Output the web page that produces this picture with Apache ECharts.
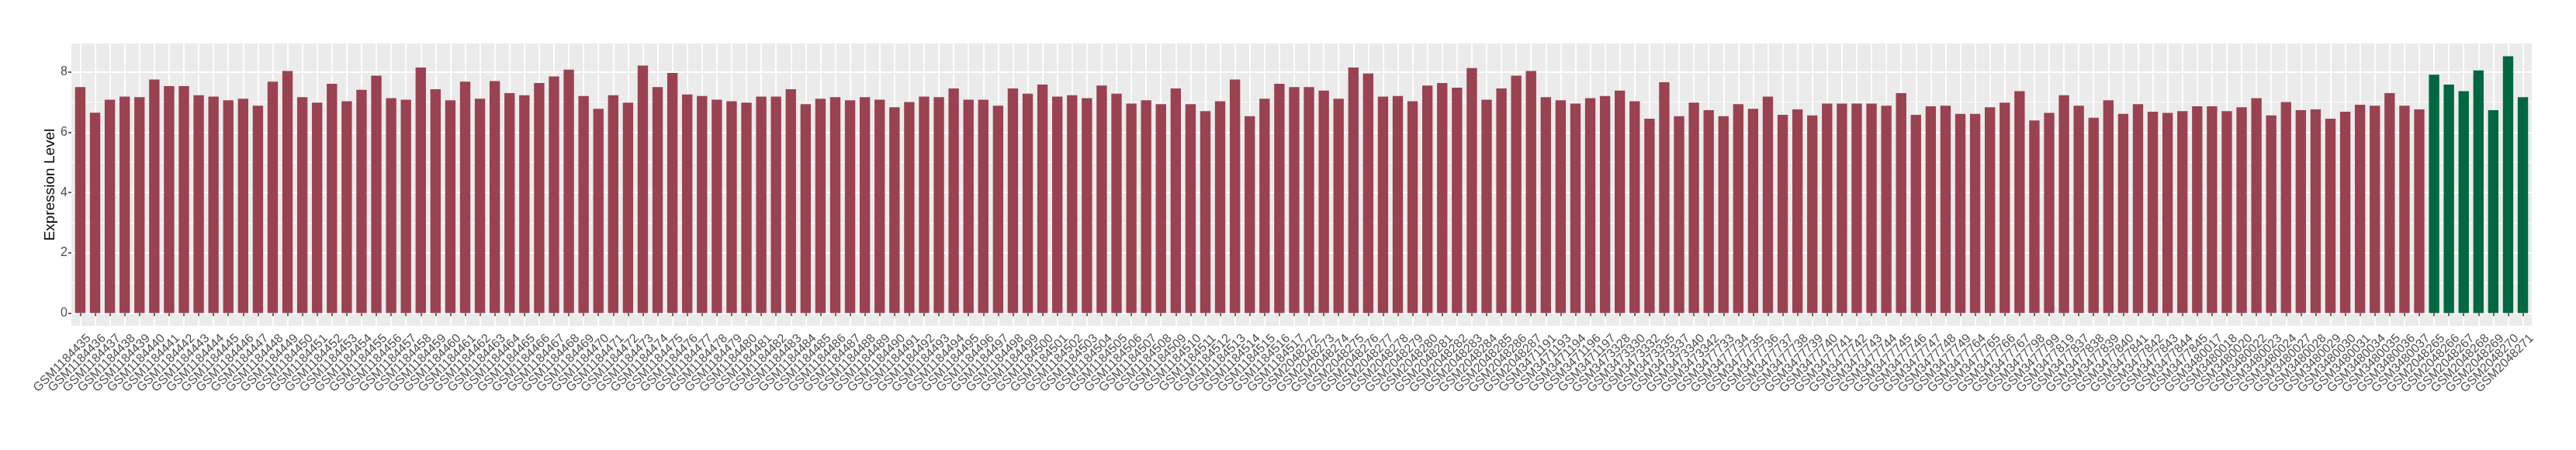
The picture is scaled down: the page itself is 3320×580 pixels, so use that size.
<!DOCTYPE html>
<html><head><meta charset="utf-8">
<script src="https://cdn.jsdelivr.net/npm/echarts@6/dist/echarts.min.js"></script>
<style>html,body{margin:0;padding:0;background:#fff}#c{width:3320px;height:580px}</style>
</head><body><div id="c"></div>
<script>
const controlSamples = [
"GSM1184435","GSM1184436","GSM1184437","GSM1184438","GSM1184439","GSM1184440","GSM1184441","GSM1184442","GSM1184443","GSM1184444",
"GSM1184445","GSM1184446","GSM1184447","GSM1184448","GSM1184449","GSM1184450","GSM1184451","GSM1184452","GSM1184453","GSM1184454",
"GSM1184455","GSM1184456","GSM1184457","GSM1184458","GSM1184459","GSM1184460","GSM1184461","GSM1184462","GSM1184463","GSM1184464",
"GSM1184465","GSM1184466","GSM1184467","GSM1184468","GSM1184469","GSM1184470","GSM1184471","GSM1184472","GSM1184473","GSM1184474",
"GSM1184475","GSM1184476","GSM1184477","GSM1184478","GSM1184479","GSM1184480","GSM1184481","GSM1184482","GSM1184483","GSM1184484",
"GSM1184485","GSM1184486","GSM1184487","GSM1184488","GSM1184489","GSM1184490","GSM1184491","GSM1184492","GSM1184493","GSM1184494",
"GSM1184495","GSM1184496","GSM1184497","GSM1184498","GSM1184499","GSM1184500","GSM1184501","GSM1184502","GSM1184503","GSM1184504",
"GSM1184505","GSM1184506","GSM1184507","GSM1184508","GSM1184509","GSM1184510","GSM1184511","GSM1184512","GSM1184513","GSM1184514",
"GSM1184515","GSM1184516","GSM1184517",
"GSM2048272","GSM2048273","GSM2048274","GSM2048275","GSM2048276","GSM2048277","GSM2048278","GSM2048279","GSM2048280","GSM2048281",
"GSM2048282","GSM2048283","GSM2048284","GSM2048285","GSM2048286","GSM2048287",
"GSM3471191","GSM3471193","GSM3471194","GSM3471196","GSM3471197","GSM3473328","GSM3473330","GSM3473332","GSM3473335","GSM3473337",
"GSM3473340","GSM3473342","GSM3477733","GSM3477734","GSM3477735","GSM3477736","GSM3477737","GSM3477738","GSM3477739","GSM3477740",
"GSM3477741","GSM3477742","GSM3477743","GSM3477744","GSM3477745","GSM3477746","GSM3477747","GSM3477748","GSM3477749","GSM3477764",
"GSM3477765","GSM3477766","GSM3477767","GSM3477798","GSM3477799","GSM3477819","GSM3477837","GSM3477838","GSM3477839","GSM3477840",
"GSM3477841","GSM3477842","GSM3477843","GSM3477844","GSM3477845","GSM3480017","GSM3480018","GSM3480020","GSM3480022","GSM3480023",
"GSM3480024","GSM3480027","GSM3480028","GSM3480029","GSM3480030","GSM3480031","GSM3480034","GSM3480035","GSM3480036","GSM3480037"
];
const controlValues = [
7.50,6.65,7.08,7.18,7.16,7.75,7.53,7.53,7.23,7.18,7.06,7.11,6.88,7.68,
8.03,7.16,6.98,7.61,7.03,7.41,7.88,7.13,7.08,8.15,7.43,7.06,7.68,7.11,
7.70,7.30,7.23,7.63,7.85,8.08,7.20,6.78,7.23,6.98,8.21,7.50,7.97,
7.25,7.20,7.08,7.03,6.98,7.18,7.18,7.43,6.93,7.11,7.16,7.06,7.16,7.08,
6.83,7.00,7.18,7.16,7.45,7.08,7.08,6.88,7.45,7.28,7.58,7.18,7.23,7.13,
7.55,7.28,6.95,7.06,6.93,7.45,6.93,6.70,7.03,7.75,6.53,7.11,7.61,7.50,
7.50,7.38,7.11,8.15,7.95,7.18,7.20,7.03,7.55,7.63,7.48,8.13,7.08,7.45,7.88,8.03,
7.16,7.06,6.95,7.13,7.20,7.38,7.03,6.45,7.66,6.53,6.98,
6.73,6.53,6.93,6.78,7.18,6.58,6.76,6.56,6.95,6.95,6.95,6.95,6.88,
7.30,6.58,6.86,6.88,6.61,6.61,6.83,6.98,7.36,6.39,6.64,7.23,6.88,6.48,
7.06,6.61,6.93,6.68,6.64,6.70,6.86,6.86,6.70,6.83,7.13,6.56,7.00,6.73,
6.76,6.45,6.68,6.91,6.88,7.30,6.88,6.76
];
const caseSamples = ["GSM2048265","GSM2048266","GSM2048267","GSM2048268","GSM2048269","GSM2048270","GSM2048271"];
const caseValues = [7.91,7.58,7.36,8.05,6.73,8.52,7.16];
const yTickValues = [0, 2, 4, 6, 8];
const yTitle = 'Expression Level';
const yMin = -0.426, yMax = 8.946;

const controlColor = '#9A4250';
const caseColor = '#006741';
const FONT = '"Liberation Sans", Arial, Helvetica, sans-serif';

const categories = controlSamples.concat(caseSamples);
const barData = controlValues.map(v => ({ value: v, itemStyle: { color: controlColor } }))
  .concat(caseValues.map(v => ({ value: v, itemStyle: { color: caseColor } })));

const W = 3320, H = 580;
const panel = { left: 92, right: 57, top: 56, bottom: 160 };
const nCat = categories.length;
const panelW = W - panel.left - panel.right;
const step = panelW / (nCat + 0.2);
const pad = 0.1 * step;

const chart = echarts.init(document.getElementById('c'), null, { renderer: 'canvas' });
chart.setOption({
  animation: false,
  backgroundColor: '#FFFFFF',
  grid: [
    { left: panel.left, right: panel.right, top: panel.top, bottom: panel.bottom, show: true, backgroundColor: '#EBEBEB', borderWidth: 0 },
    { left: panel.left + pad, right: panel.right + pad, top: panel.top, bottom: panel.bottom, show: false }
  ],
  graphic: [{
    type: 'text',
    x: 64.5,
    y: panel.top + (H - panel.top - panel.bottom) / 2,
    rotation: Math.PI / 2,
    silent: true,
    style: { text: yTitle, fontSize: 19, fontWeight: 'normal', fontFamily: FONT, fill: '#000000', align: 'center', verticalAlign: 'middle' }
  }],
  xAxis: [
    { type: 'value', gridIndex: 0, min: 0, max: 1, show: false },
    {
      type: 'category', gridIndex: 1, data: categories, boundaryGap: true,
      axisLine: { show: false },
      axisTick: { show: true, alignWithLabel: true, interval: 0, length: 4, lineStyle: { color: '#333333', width: 1.5 } },
      splitLine: { show: true, alignWithLabel: true, interval: 0, lineStyle: { color: '#FFFFFF', width: 1.8 } },
      axisLabel: { interval: 0, rotate: 45, margin: 25, padding: [0, -16, 0, 0], fontSize: 16, color: '#4D4D4D', fontFamily: FONT }
    }
  ],
  yAxis: [
    {
      type: 'value', gridIndex: 0, min: yMin, max: yMax,
      axisLine: { show: false },
      axisTick: { show: true, customValues: yTickValues, length: 4, lineStyle: { color: '#333333', width: 1.5 } },
      axisLabel: { customValues: yTickValues, margin: 5, fontSize: 16, color: '#4D4D4D', fontFamily: FONT },
      splitLine: { show: true, lineStyle: { color: '#FFFFFF', width: 1.8 } },
      minorTick: { show: false, splitNumber: 2 },
      minorSplitLine: { show: true, lineStyle: { color: '#FFFFFF', width: 0.9 } }
    },
    { type: 'value', gridIndex: 1, min: yMin, max: yMax, show: false }
  ],
  series: [{
    type: 'bar', xAxisIndex: 1, yAxisIndex: 1, data: barData, barWidth: '70%'
  }]
});
</script></body></html>
